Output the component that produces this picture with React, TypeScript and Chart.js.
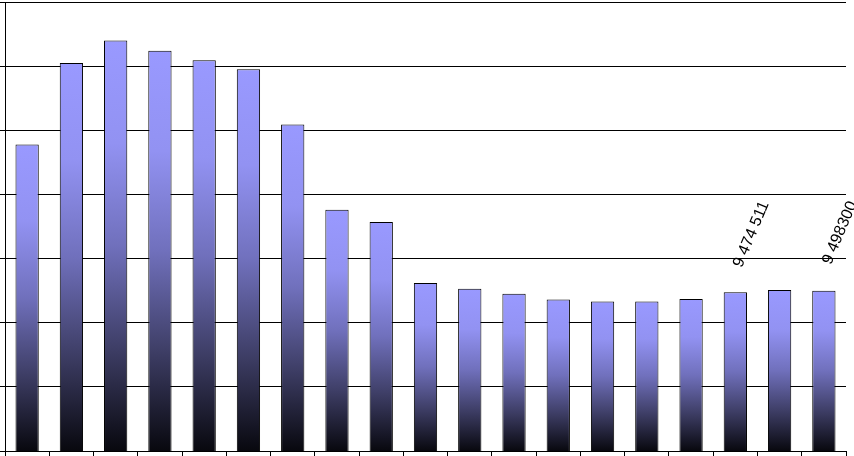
import React, { useEffect, useRef } from "react";
import { Chart, registerables } from "chart.js";

Chart.register(...registerables);

const categories = [
  "1", "2", "3", "4", "5", "6", "7", "8", "9", "10",
  "11", "12", "13", "14", "15", "16", "17", "18", "19",
];

const values = [
  11780000, 13050000, 13400000, 13240000, 13090000, 12950000, 12090000,
  10760000, 10570000, 9620000, 9530000, 9450000, 9360000, 9330000,
  9330000, 9370000, 9474511, 9510000, 9498300,
];

const yMin = 7000000;
const yMax = 14000000;
const yStep = 1000000;

const labelIndices = [16, 18];
const labelTexts = ["9 474 511", "9 498300"];

const valueLabelPlugin = {
  id: "valueLabels",
  afterDatasetsDraw(chart: any) {
    const meta = chart.getDatasetMeta(0);
    const c = chart.ctx;
    c.save();
    c.fillStyle = "#000";
    c.font = "16px 'Liberation Sans', Arial, sans-serif";
    c.textAlign = "center";
    c.textBaseline = "middle";
    labelIndices.forEach((idx, k) => {
      const el = meta.data[idx];
      if (!el) return;
      c.save();
      c.translate(el.x + 16, el.y - 58);
      c.rotate((-67 * Math.PI) / 180);
      c.fillText(labelTexts[k], 0, 0);
      c.restore();
    });
    c.restore();
  },
};

function barGradient(ctx: any) {
  const chart = ctx.chart;
  const area = chart.chartArea;
  if (!area || ctx.type !== "data") return "#9999ff";
  const ys = chart.scales.y;
  const top = ys.getPixelForValue(ctx.raw);
  const bottom = area.bottom;
  if (!isFinite(top) || bottom - top < 1) return "#9999ff";
  const g = chart.ctx.createLinearGradient(0, top, 0, bottom);
  g.addColorStop(0, "rgb(153,153,255)");
  g.addColorStop(0.25, "rgb(146,146,242)");
  g.addColorStop(0.5, "rgb(112,112,188)");
  g.addColorStop(0.75, "rgb(62,62,102)");
  g.addColorStop(1, "rgb(8,8,14)");
  return g;
}

export default function App() {
  const canvasRef = useRef<HTMLCanvasElement | null>(null);

  useEffect(() => {
    if (!canvasRef.current) return;
    const chart = new Chart(canvasRef.current, {
      type: "bar",
      data: {
        labels: categories,
        datasets: [
          {
            data: values,
            backgroundColor: barGradient as any,
            borderColor: "#000000",
            borderWidth: 1,
            categoryPercentage: 1,
            barPercentage: 0.526,
          },
        ],
      },
      options: {
        animation: false,
        responsive: false,
        layout: { padding: { top: 2, right: 8, bottom: 0, left: 0 } },
        plugins: {
          legend: { display: false },
          tooltip: { enabled: false },
          title: { display: false },
        },
        scales: {
          x: {
            grid: {
              display: true,
              drawOnChartArea: false,
              drawTicks: true,
              tickLength: 5,
              color: "#000000",
              offset: true,
            },
            border: { display: true, color: "#000000", width: 1 },
            ticks: { display: false },
          },
          y: {
            min: yMin,
            max: yMax,
            grid: {
              display: true,
              drawTicks: true,
              tickLength: 5,
              color: "#000000",
            },
            border: { display: true, color: "#000000", width: 1 },
            ticks: { display: false, stepSize: yStep },
          },
        },
      },
      plugins: [valueLabelPlugin],
    });
    return () => chart.destroy();
  }, []);

  return (
    <div
      style={{
        position: "absolute",
        left: 0,
        top: 0,
        width: 854,
        height: 456,
        background: "#ffffff",
      }}
    >
      <canvas ref={canvasRef} width={854} height={456} />
    </div>
  );
}
